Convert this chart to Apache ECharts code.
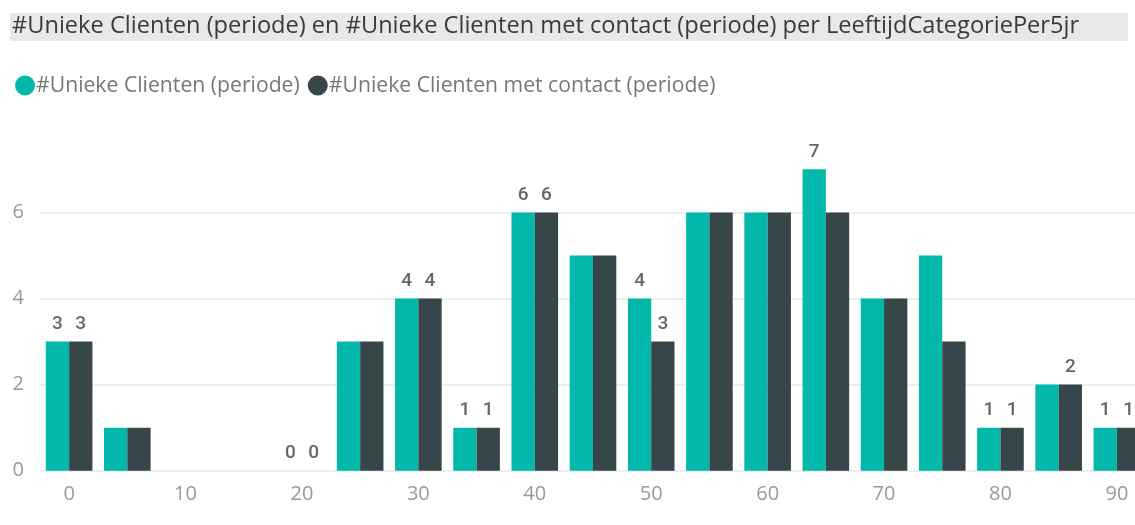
<!DOCTYPE html>
<html>
<head>
<meta charset="utf-8">
<script src="https://cdn.jsdelivr.net/npm/echarts@6/dist/echarts.min.js"></script>
<style>
  html, body { margin: 0; padding: 0; background: #fff; }
  #chart { width: 1135px; height: 525px; }
</style>
</head>
<body>
<div id="chart"></div>
<script>
// leeftijdscategorieën (per 5 jaar)
const categories = ['0', '5', '10', '15', '20', '25', '30', '35', '40', '45', '50', '55', '60', '65', '70', '75', '80', '85', '90']
const clienten = [3, 1, null, null, 0, 3, 4, 1, 6, 5, 4, 6, 6, 7, 4, 5, 1, 2, 1]
const clientenContact = [3, 1, null, null, 0, 3, 4, 1, 6, 5, 3, 6, 6, 6, 4, 3, 1, 2, 1]
const yTicks = [0, 2, 4, 6]

// welke datalabels zichtbaar zijn (zoals in het origineel)
const labelsClienten = ['0', '20', '30', '35', '40', '50', '65', '80', '90']
const labelsContact = ['0', '20', '30', '35', '40', '50', '80', '85', '90']

const TEAL = '#01B8AA'
const DARK = '#374649'

const withLabels = (values, shown) => values.map((v, i) => ({
  value: v,
  label: { show: shown.includes(categories[i]) }
}))

const chart = echarts.init(document.getElementById('chart'))

const labelStyle = {
  position: 'top',
  distance: 8,
  color: '#666',
  fontFamily: 'Roboto',
  fontWeight: 500,
  fontSize: 19
}

chart.setOption({
  animation: false,
  title: {
    text: '#Unieke Clienten (periode) en #Unieke Clienten met contact (periode) per LeeftijdCategoriePer5jr',
    left: 8,
    top: 11,
    padding: [3, 4],
    textStyle: { fontFamily: 'Open Sans', fontSize: 23.6, fontWeight: 'normal', color: '#3a3a3a' }
  },
  graphic: [{
    type: 'rect',
    z: -1,
    shape: { x: 10, y: 13, width: 1118, height: 28 },
    style: { fill: '#e8e8e8' }
  }],
  legend: {
    left: 10,
    top: 70,
    icon: 'circle',
    itemWidth: 20,
    itemHeight: 20,
    itemGap: 8,
    textStyle: { fontFamily: 'Open Sans', fontSize: 21.2, color: '#777', padding: [0, 0, 0, -4] }
  },
  grid: { left: 40, width: 1106, top: 143.5, bottom: 54.3, outerBoundsMode: 'none' },
  xAxis: {
    type: 'category',
    data: categories,
    axisLine: { show: false },
    axisTick: { show: false },
    axisLabel: {
      interval: 1,
      margin: 14,
      color: '#999',
      fontFamily: 'Open Sans',
      fontSize: 20
    }
  },
  yAxis: {
    type: 'value',
    min: 0,
    max: 7.6,
    interval: 2,
    axisLine: { show: false },
    axisTick: { show: false },
    axisLabel: {
      margin: 16,
      color: '#999',
      fontFamily: 'Open Sans',
      fontSize: 20,
      formatter: v => (yTicks.includes(v) ? String(v) : '')
    },
    splitLine: {
      lineStyle: { color: ['#e8e8e8', '#e8e8e8', '#e8e8e8', '#e8e8e8', 'rgba(0,0,0,0)'], width: 1.5 }
    }
  },
  series: [
    {
      name: '#Unieke Clienten (periode)',
      type: 'bar',
      data: withLabels(clienten, labelsClienten),
      barWidth: 23.3,
      barGap: '0%',
      itemStyle: { color: TEAL },
      label: labelStyle
    },
    {
      name: '#Unieke Clienten met contact (periode)',
      type: 'bar',
      data: withLabels(clientenContact, labelsContact),
      barWidth: 23.3,
      barGap: '0%',
      itemStyle: { color: DARK },
      label: labelStyle
    }
  ]
})

window.addEventListener('resize', () => chart.resize())
</script>
</body>
</html>
